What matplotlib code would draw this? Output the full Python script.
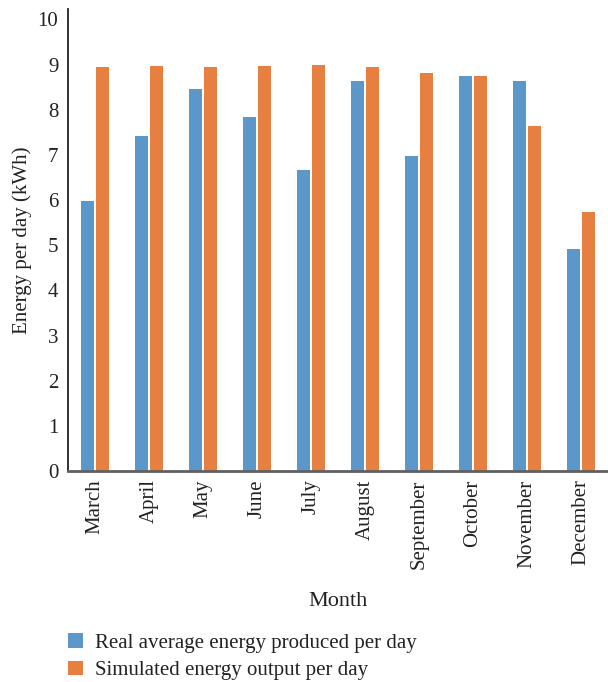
import matplotlib
matplotlib.use("Agg")
import matplotlib.pyplot as plt
import numpy as np

months = ["March", "April", "May", "June", "July", "August",
          "September", "October", "November", "December"]
real_energy = [5.97, 7.41, 8.45, 7.83, 6.66, 8.63, 6.97, 8.74, 8.63, 4.91]
simulated_energy = [8.94, 8.96, 8.94, 8.96, 9.00, 8.94, 8.81, 8.74, 7.65, 5.73]
series_labels = ["Real average energy produced per day",
                 "Simulated energy output per day"]
y_ticks = list(range(0, 11))

plt.rcParams["font.family"] = ["Liberation Serif", "DejaVu Serif"]

fig = plt.figure(figsize=(6.08, 6.82), dpi=100)
ax = fig.add_axes([68 / 608, 1 - 471 / 682, 540 / 608, 462 / 682])

x = np.arange(len(months))
w = 0.24
off = 0.135
b1 = ax.bar(x - off, real_energy, width=w, color="#5b97c9", label=series_labels[0])
b2 = ax.bar(x + off, simulated_energy, width=w, color="#e67f3f", label=series_labels[1])

ax.set_xlim(-0.5, len(months) - 0.5)
ax.set_ylim(0, 10.23)
ax.set_yticks(y_ticks)
ax.set_yticklabels([str(t) for t in y_ticks], fontsize=15, color="#222222")
ax.set_xticks(x)
ax.set_xticklabels(months, rotation=90, fontsize=15, color="#222222")
ax.tick_params(axis="both", length=0)
ax.tick_params(axis="x", pad=6)
ax.tick_params(axis="y", pad=7)

for s in ["top", "right"]:
    ax.spines[s].set_visible(False)
ax.spines["left"].set_color("#222222")
ax.spines["left"].set_linewidth(1.3)
ax.spines["bottom"].set_color("#606060")
ax.spines["bottom"].set_linewidth(2.0)

ax.set_ylabel("Energy per day (kWh)", fontsize=15, color="#222222", labelpad=4)
ax.set_xlabel("Month", fontsize=16, color="#222222", labelpad=17)

fig.legend(handles=[b1, b2], labels=series_labels, loc="upper left",
           bbox_to_anchor=(60 / 608, 1 - 625 / 682), frameon=False,
           fontsize=15, handlelength=0.68, handleheight=0.68,
           handletextpad=0.62, labelspacing=0.38, borderaxespad=0,
           labelcolor="#222222")

fig.savefig("out.png", dpi=100, facecolor="white")
